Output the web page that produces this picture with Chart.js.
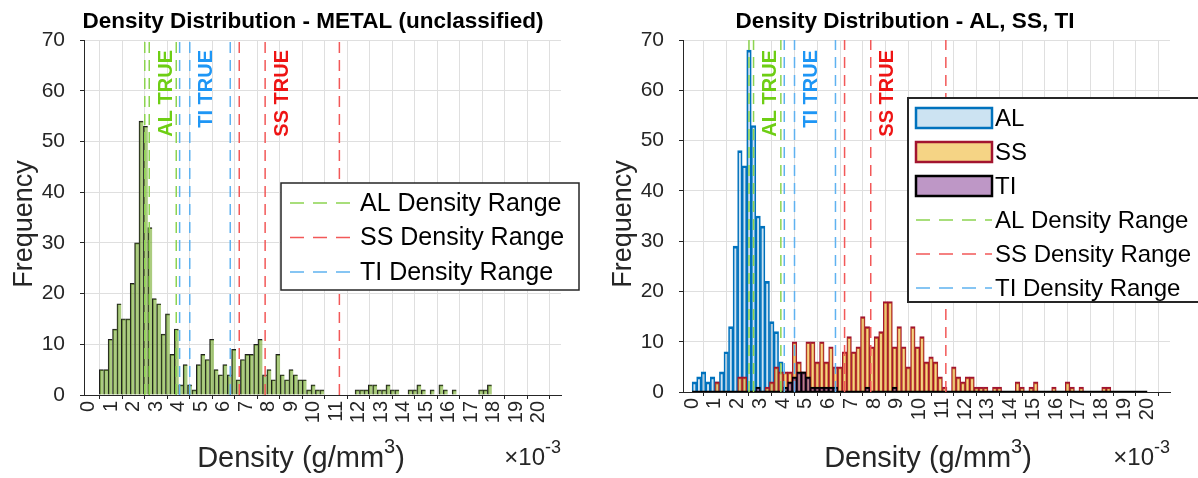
<!DOCTYPE html>
<html>
<head>
<meta charset="utf-8">
<title>Density Distribution</title>
<script src="https://cdn.jsdelivr.net/npm/chart.js@4.4.1/dist/chart.umd.min.js"></script>
<style>
  body { margin: 0; background: #fff; }
  #wrap { position: relative; width: 1198px; height: 478px; overflow: hidden; }
  canvas { position: absolute; top: 0; }
</style>
</head>
<body>
<div id="wrap">
  <canvas id="metal" width="599" height="478" style="left:0"></canvas>
  <canvas id="split" width="599" height="478" style="left:599px"></canvas>
</div>
<script>
// densities are in units of 1e-3 g/mm^3 (the axis carries the x10^-3 factor)
const xTickValues = [0,1,2,3,4,5,6,7,8,9,10,11,12,13,14,15,16,17,18,19,20]

// unclassified metal histogram
const metalBinStart = 0.48
const metalBinWidth = 0.196
const metalCounts = [
  5,5,11,13,18,15,15,22,30,54,53,33,19,18,12,16,8,13,
  2,6,2,1,6,8,7,11,5,4,6,4,9,3,7,8,8,10,11,4,5,3,8,4,3,5,4,3,3,1,2,1,1,
  0,0,0,0,0,0,0,
  1,1,1,2,2,1,1,2,1,1,
  0,0,1,1,2,1,0,1,0,2,1,0,
  1,0,0,0,0,0,1,1,2
]

// per class histograms, bins start at 0 with width 0.2
const binWidth = 0.2
const alCounts = [2,3,4,2,3,2,4,8,13,29,48,45,68,53,35,33,22,14,12,6]
const ssCounts = [
  0,0,0,0,0,2,0,0,0,0,
  3,3,0,0,0,0,1,2,5,4,
  4,4,10,6,4,10,10,6,10,6,
  9,5,5,8,11,8,9,15,13,9,
  11,12,18,18,9,13,9,5,13,9,
  11,6,7,6,3,1,0,5,3,2,
  3,3,1,1,1,0,1,1,0,0,
  0,2,1,0,1,2,0,0,0,1,
  0,0,2,1,0,1,0,0,0,0,
  1,1
]
const tiCounts = [
  0,0,0,0,0,0,0,0,0,0,0,0,0,0,1,0,0,0,0,0,
  1,2,3,4,4,3,1,1,1,1,1,1,0,0,0,0,0,0,1,0,
  0,0,0,0,1
]
const tiBaseline = [0, 20]

// density ranges (low, true, high)
const alRange = [2.5, 2.7, 3.9]
const tiRange = [4.05, 4.5, 6.3]
const ssRange = [6.7, 7.85, 11.15]
const trueDensity = { AL: 2.7, TI: 4.5, SS: 7.85 }

const FONT = '"Liberation Sans", Arial, Helvetica, sans-serif'
const INK = 'rgb(38,38,38)'
const GRID = 'rgb(223,223,223)'
const GREEN = 'rgb(140,212,80)'
const RED = 'rgb(242,88,88)'
const BLUE = 'rgb(95,178,240)'

function histogram(start, width, counts) {
  return counts.map((c, i) => ({ x: start + width * (i + 0.5), y: c }))
}

// vertical lines spanning the full y range, separated by gaps
function xlines(values) {
  const pts = []
  values.forEach(v => pts.push({ x: v, y: 0 }, { x: v, y: 70 }, { x: v, y: null }))
  return pts
}

function rangeSet(label, values, color) {
  return {
    type: 'line', label, data: xlines(values),
    borderColor: color, borderWidth: 1.5, borderDash: [11, 7],
    pointRadius: 0, spanGaps: false, order: 0
  }
}

function barSet(label, data, bg, border, width, order) {
  return {
    type: 'bar', label, data, backgroundColor: bg, borderColor: border,
    borderWidth: width, borderSkipped: false, grouped: false,
    barPercentage: 1, categoryPercentage: 1, order
  }
}

function axes(xmin, xmax, xHeight) {
  return {
    x: {
      type: 'linear', min: xmin, max: xmax, offset: false,
      afterBuildTicks: s => { s.ticks = xTickValues.map(v => ({ value: v })) },
      afterFit: s => { s.height = xHeight },
      grid: { color: GRID, tickColor: INK, tickLength: 4 },
      border: { color: INK, width: 1 },
      ticks: { autoSkip: false, minRotation: 90, maxRotation: 90, padding: 2, color: INK, font: { family: FONT, size: 20 } }
    },
    y: {
      min: 0, max: 70,
      afterFit: s => { s.width = 84 },
      grid: { color: GRID, tickColor: INK, tickLength: 4 },
      border: { color: INK, width: 1 },
      ticks: { stepSize: 5, padding: 15, color: INK, font: { family: FONT, size: 21 } }
    }
  }
}

// text made of pieces, some raised (superscripts)
function drawPieces(ctx, pieces, x, y, align) {
  let total = 0
  pieces.forEach(p => { ctx.font = p.size + 'px ' + FONT; p.w = ctx.measureText(p.t).width; total += p.w })
  let cx = align === 'center' ? x - total / 2 : x - total
  ctx.textAlign = 'left'
  ctx.textBaseline = 'alphabetic'
  pieces.forEach(p => {
    ctx.font = p.size + 'px ' + FONT
    ctx.fillText(p.t, cx, y + (p.dy || 0))
    cx += p.w
  })
}

function drawLegend(ctx, L) {
  ctx.save()
  ctx.fillStyle = '#fff'
  ctx.fillRect(L.x, L.y, L.w, L.h)
  ctx.strokeStyle = INK
  ctx.lineWidth = L.lw
  ctx.strokeRect(L.x, L.y, L.w, L.h)
  L.items.forEach((ds, i) => {
    const cy = L.y + L.first + i * L.step
    if (ds.type === 'bar') {
      ctx.fillStyle = ds.backgroundColor
      ctx.fillRect(L.sx0, cy - 10, L.sx1 - L.sx0, 20)
      ctx.strokeStyle = ds.borderColor
      ctx.lineWidth = 2.5
      ctx.setLineDash([])
      ctx.strokeRect(L.sx0, cy - 10, L.sx1 - L.sx0, 20)
    } else {
      ctx.strokeStyle = ds.borderColor
      ctx.lineWidth = 1.5
      ctx.setLineDash([14, 9])
      ctx.beginPath()
      ctx.moveTo(L.sx0, cy)
      ctx.lineTo(L.sx1, cy)
      ctx.stroke()
      ctx.setLineDash([])
    }
    ctx.fillStyle = '#000'
    ctx.font = L.size + 'px ' + FONT
    ctx.textAlign = 'left'
    ctx.textBaseline = 'middle'
    ctx.fillText(ds.label, L.tx, cy + 1)
  })
  ctx.restore()
}

function decor(cfg) {
  return {
    id: 'decor',
    afterDatasetsDraw(chart) {
      const ctx = chart.ctx
      const x = chart.scales.x
      ctx.save()
      ctx.font = 'bold 20px ' + FONT
      ctx.textAlign = 'right'
      ctx.textBaseline = 'middle'
      cfg.marks.forEach(m => {
        ctx.save()
        ctx.translate(x.getPixelForValue(m.value + 0.75), 50)
        ctx.rotate(-Math.PI / 2)
        ctx.fillStyle = m.color
        ctx.fillText(m.text, 0, 0)
        ctx.restore()
      })
      ctx.restore()
    },
    afterDraw(chart) {
      const ctx = chart.ctx
      const a = chart.chartArea
      ctx.save()
      ctx.fillStyle = '#000'
      ctx.font = 'bold 22.5px ' + FONT
      ctx.textAlign = 'center'
      ctx.textBaseline = 'alphabetic'
      ctx.fillText(cfg.title, cfg.titleX, 28)

      ctx.fillStyle = INK
      ctx.save()
      ctx.translate(cfg.yLabelX, 224)
      ctx.rotate(-Math.PI / 2)
      ctx.font = '27px ' + FONT
      ctx.textAlign = 'center'
      ctx.textBaseline = 'middle'
      ctx.fillText('Frequency', 0, 0)
      ctx.restore()

      drawPieces(ctx, [
        { t: 'Density (g/mm', size: 29 },
        { t: '3', size: 20, dy: -14 },
        { t: ')', size: 29 }
      ], cfg.xLabelX, 467, 'center')
      drawPieces(ctx, [
        { t: '\u00d710', size: 24 },
        { t: '-3', size: 18, dy: -12 }
      ], a.right, 465, 'right')
      ctx.restore()

      drawLegend(ctx, cfg.legend)
    }
  }
}

const baseOptions = (xmin, xmax, xHeight, padRight) => ({
  responsive: false,
  animation: false,
  events: [],
  layout: { padding: { top: 40, right: padRight, left: 0, bottom: 0 } },
  plugins: { legend: { display: false }, tooltip: { enabled: false } },
  scales: axes(xmin, xmax, xHeight)
})

// ---- left: all metal, unclassified ----
const alLines = rangeSet('AL Density Range', alRange, GREEN)
const ssLines = rangeSet('SS Density Range', ssRange, RED)
const tiLines = rangeSet('TI Density Range', tiRange, BLUE)
const marks = [
  { text: 'AL TRUE', value: trueDensity.AL, color: 'rgb(110,206,20)' },
  { text: 'TI TRUE', value: trueDensity.TI, color: 'rgb(30,150,245)' },
  { text: 'SS TRUE', value: trueDensity.SS, color: 'rgb(238,20,20)' }
]

new Chart(document.getElementById('metal'), {
  type: 'bar',
  data: {
    datasets: [
      alLines, ssLines, tiLines,
      barSet('METAL', histogram(metalBinStart, metalBinWidth, metalCounts),
        'rgba(119,172,48,0.62)', 'rgb(30,30,30)', { top: 1, left: 1, right: 0, bottom: 0 }, 1)
    ]
  },
  options: baseOptions(-0.2, 21, 83, 38),
  plugins: [decor({
    title: 'Density Distribution - METAL (unclassified)', titleX: 313,
    yLabelX: 25, xLabelX: 301, marks,
    legend: { x: 281, y: 183, w: 298, h: 107, lw: 1.5, first: 20, step: 34.5, sx0: 290, sx1: 355, tx: 360, size: 25,
      items: [alLines, ssLines, tiLines] }
  })]
})

// ---- right: classified AL / SS / TI ----
const alBars = barSet('AL', histogram(0, binWidth, alCounts),
  'rgba(0,114,189,0.2)', 'rgb(0,114,189)', { top: 2, left: 1, right: 1, bottom: 0 }, 3)
const ssBars = barSet('SS', histogram(0, binWidth, ssCounts),
  'rgba(237,177,32,0.55)', 'rgb(162,20,47)', { top: 2, left: 1, right: 1, bottom: 0 }, 2)
const tiBars = barSet('TI', histogram(0, binWidth, tiCounts),
  'rgba(126,47,142,0.5)', 'rgb(0,0,0)', { top: 2, left: 1, right: 1, bottom: 0 }, 1)
const alLines2 = rangeSet('AL Density Range', alRange, GREEN)
const ssLines2 = rangeSet('SS Density Range', ssRange, RED)
const tiLines2 = rangeSet('TI Density Range', tiRange, BLUE)

new Chart(document.getElementById('split'), {
  type: 'bar',
  data: {
    datasets: [
      alLines2, ssLines2, tiLines2,
      { type: 'line', label: 'TI base', data: tiBaseline.map(v => ({ x: v, y: 0 })),
        borderColor: '#000', borderWidth: 2.5, pointRadius: 0, order: 1 },
      alBars, ssBars, tiBars
    ]
  },
  options: baseOptions(-0.4, 21, 86, 28),
  plugins: [decor({
    title: 'Density Distribution - AL, SS, TI', titleX: 306,
    yLabelX: 25, xLabelX: 329, marks,
    legend: { x: 309, y: 98, w: 330, h: 204, lw: 2, first: 20, step: 34, sx0: 317, sx1: 393, tx: 396, size: 24,
      items: [alBars, ssBars, tiBars, alLines2, ssLines2, tiLines2] }
  })]
})
</script>
</body>
</html>
